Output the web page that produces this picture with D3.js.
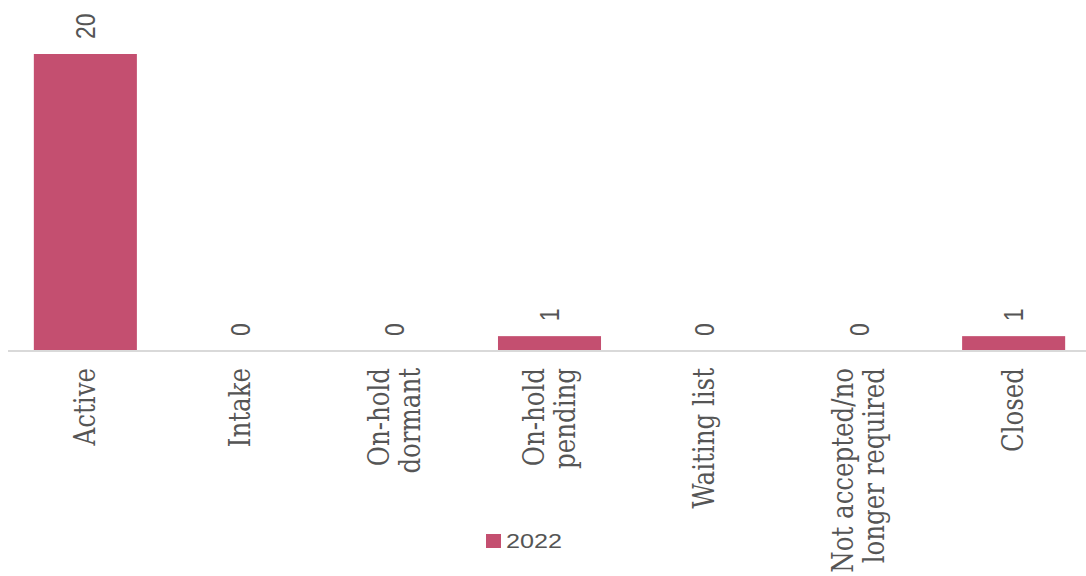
<!DOCTYPE html>
<html><head><meta charset="utf-8">
<script src="https://cdn.jsdelivr.net/npm/d3@7"></script>
<style>body{margin:0;background:#fff}svg{display:block}
.cat{font-family:"DejaVu Serif", serif;}
</style>
</head><body>
<script>
const categories = [["Active"],["Intake"],["On-hold","dormant"],["On-hold","pending"],["Waiting list"],["Not accepted/no","longer required"],["Closed"]];
const seriesName = "2022";
const values2022 = [20,0,0,1,0,0,1];

const W = 1086, H = 576;
const barColor = "#C44F70", textColor = "#555555";
const SX = 1.2; // horizontal stretch of text in the reference

const svg = d3.select("body").append("svg").attr("width",W).attr("height",H);

const x = d3.scaleBand().domain(d3.range(categories.length)).range([8,1091]).paddingInner(0.334).paddingOuter(0.167);
const y = d3.scaleLinear().domain([0,20]).range([351,54]);

svg.selectAll("rect.bar").data(values2022).join("rect")
  .attr("class","bar")
  .attr("x",(d,i)=>x(i)).attr("width",x.bandwidth())
  .attr("y",d=>y(d)).attr("height",d=>y(0)-y(d))
  .attr("fill",barColor);

svg.append("line").attr("x1",8).attr("x2",W).attr("y1",y(0)).attr("y2",y(0))
  .attr("stroke","#D9D9D9").attr("stroke-width",2);

svg.selectAll("text.val").data(values2022).join("text")
  .attr("class","val")
  .attr("transform",(d,i)=>`translate(${x(i)+x.bandwidth()/2},${y(d)-15}) scale(${SX},1) rotate(-90)`)
  .attr("dy","0.35em")
  .attr("text-anchor","start")
  .attr("font-family","Liberation Sans, Arial, sans-serif")
  .attr("font-size",23)
  .attr("fill",textColor)
  .text(d=>d);

const lh = 26;
const cl = svg.selectAll("text.cat").data(categories).join("text")
  .attr("class","cat")
  .attr("transform",(d,i)=>`translate(${x(i)+x.bandwidth()/2},368) scale(${SX},1) rotate(-90)`)
  .attr("text-anchor","end")
  .attr("font-size",24.5)
  .attr("fill",textColor);
cl.each(function(lines){
  const t = d3.select(this);
  lines.forEach((ln,j)=>{
    t.append("tspan").attr("x",0)
      .attr("y", (j-(lines.length-1)/2)*lh + 8)
      .text(ln);
  });
});

const lg = svg.append("g");
lg.append("rect").attr("x",486).attr("y",534).attr("width",15).attr("height",14).attr("fill",barColor);
lg.append("text").attr("transform",`translate(506,548) scale(${SX},1)`)
  .attr("font-family","Liberation Sans, Arial, sans-serif").attr("font-size",21)
  .attr("fill",textColor).text(seriesName);
</script>
</body></html>
